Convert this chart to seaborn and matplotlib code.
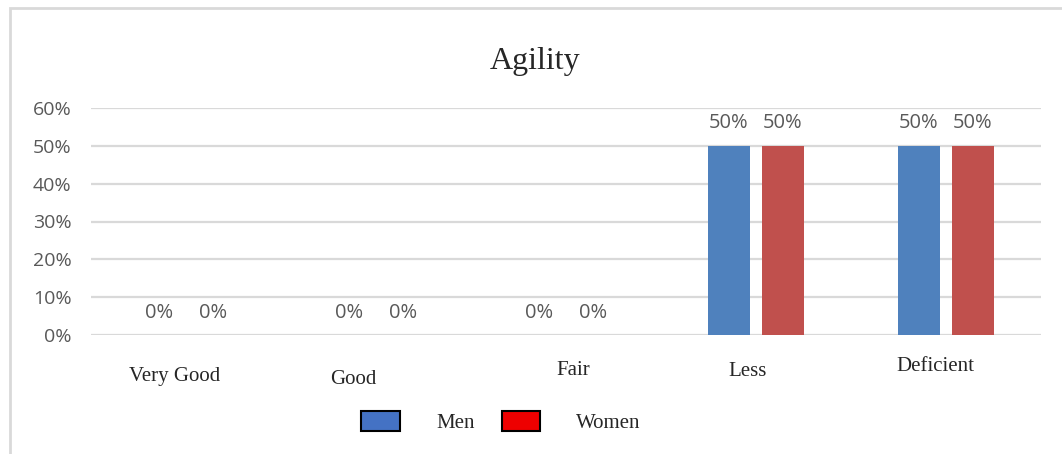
import pandas as pd
import seaborn as sns
import matplotlib.pyplot as plt
from matplotlib.patches import Patch, Rectangle
from matplotlib.transforms import ScaledTranslation

categories = ["Very Good", "Good", "Fair", "Less", "Deficient"]
men = [0.0, 0.0, 0.0, 0.5, 0.5]
women = [0.0, 0.0, 0.0, 0.5, 0.5]
groups = ["Men", "Women"]

bar_colors = ["#4F81BD", "#C0504D"]
legend_colors = ["#4472C4", "#EE0000"]

sns.set_theme(style="white")
plt.rcParams["font.family"] = ["Open Sans", "DejaVu Sans"]
serif = ["Liberation Serif", "DejaVu Serif"]

data = pd.DataFrame({
    "category": categories * 2,
    "value": men + women,
    "group": [groups[0]] * len(categories) + [groups[1]] * len(categories),
})

fig = plt.figure(figsize=(10.62, 4.54), dpi=100)
ax = fig.add_axes([91 / 1062, 1 - 335 / 454, 950 / 1062, 227 / 454])

sns.barplot(data=data, x="category", y="value", hue="group", order=categories,
            hue_order=groups, palette=bar_colors, saturation=1, width=0.568,
            gap=0.222, linewidth=0, legend=False, ax=ax)

ax.set_ylim(0, 0.6)
ax.set_yticks([0, 0.1, 0.2, 0.3, 0.4, 0.5, 0.6])
ax.set_yticklabels([f"{t:.0%}" for t in ax.get_yticks()])
ax.yaxis.grid(True, color="#D9D9D9", linewidth=1.6)
ax.set_axisbelow(True)
for s in ax.spines.values():
    s.set_visible(False)
ax.tick_params(axis="y", length=0, pad=14, labelsize=14, labelcolor="#595959")
ax.tick_params(axis="x", length=0, pad=21, labelsize=15)
ax.set_xlabel("")
ax.set_ylabel("")

for c in ax.containers:
    ax.bar_label(c, fmt=lambda v: f"{v:.0%}", padding=9, fontsize=14.5, color="#595959")

# the category labels sit a little off centre in the original
offsets = [(-11, -3), (-23, -6), (7, 3), (-8, 2), (-11, 7)]
for lbl, (dx, dy) in zip(ax.get_xticklabels(), offsets):
    lbl.set_fontfamily(serif)
    lbl.set_transform(lbl.get_transform() + ScaledTranslation(dx / 100, dy / 100, fig.dpi_scale_trans))

fig.text(535 / 1062, 1 - 61 / 454, "Agility", ha="center", va="center",
         fontsize=23, family=serif)

handles = [Patch(facecolor=col, edgecolor="black", linewidth=1.5) for col in legend_colors]
fig.legend(handles, groups, loc="center", bbox_to_anchor=(501 / 1062, 1 - 422 / 454),
           ncol=2, frameon=False, prop={"family": serif, "size": 15},
           handlelength=1.83, handleheight=1.06, handletextpad=1.75, columnspacing=1.3)

fig.patches.append(Rectangle((10 / 1062, -0.1), 1.2, 1.1 - 8 / 454, transform=fig.transFigure,
                             fill=False, edgecolor="#D9D9D9", linewidth=2))

fig.savefig("out.png", dpi=100)
